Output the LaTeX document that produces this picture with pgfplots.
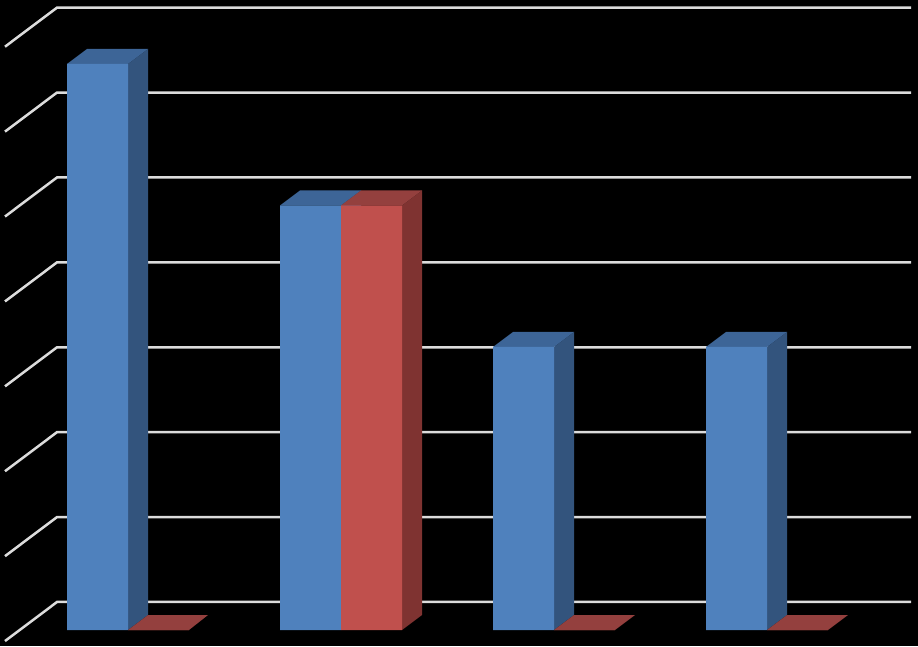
\documentclass[border=0pt]{standalone}
\usepackage{pgfplots}
\pgfplotsset{compat=1.18}
\definecolor{grid}{HTML}{DCDCDC}
\definecolor{bf}{HTML}{4F81BD}
\definecolor{bs}{HTML}{33547D}
\definecolor{bt}{HTML}{3D6597}
\definecolor{rf}{HTML}{C0504D}
\definecolor{rs}{HTML}{7F3331}
\definecolor{rt}{HTML}{94403E}
\begin{document}
\begin{tikzpicture}
\begin{axis}[
  scale only axis, width=918pt, height=646pt,
  xmin=0, xmax=918, ymin=-0.113, ymax=4.452,
  ticks=none,
  axis line style={draw=none},
  axis background/.style={fill=black},
  clip=true,
]
% back-wall grid lines with their diagonal returns
\pgfplotsset{gl/.style={draw=grid, line width=2.5pt, no marks, line join=miter}}
\addplot[gl] coordinates {(5,-0.078) (57,0.198) (911,0.198)};
\addplot[gl] coordinates {(5,0.522) (57,0.798) (911,0.798)};
\addplot[gl] coordinates {(5,1.122) (57,1.398) (911,1.398)};
\addplot[gl] coordinates {(5,1.722) (57,1.998) (911,1.998)};
\addplot[gl] coordinates {(5,2.322) (57,2.598) (911,2.598)};
\addplot[gl] coordinates {(5,2.922) (57,3.198) (911,3.198)};
\addplot[gl] coordinates {(5,3.522) (57,3.798) (911,3.798)};
\addplot[gl] coordinates {(5,4.122) (57,4.398) (911,4.398)};
% series 1: side and top faces
\addplot[fill=bs, draw=none] coordinates {(128,0) (148,0.106) (148,4.106) (128,4)} --cycle;
\addplot[fill=bt, draw=none] coordinates {(67,4) (87,4.106) (148,4.106) (128,4)} --cycle;
\addplot[fill=bs, draw=none] coordinates {(341,0) (361,0.106) (361,3.106) (341,3)} --cycle;
\addplot[fill=bt, draw=none] coordinates {(280,3) (300,3.106) (361,3.106) (341,3)} --cycle;
\addplot[fill=bs, draw=none] coordinates {(554,0) (574,0.106) (574,2.106) (554,2)} --cycle;
\addplot[fill=bt, draw=none] coordinates {(493,2) (513,2.106) (574,2.106) (554,2)} --cycle;
\addplot[fill=bs, draw=none] coordinates {(767,0) (787,0.106) (787,2.106) (767,2)} --cycle;
\addplot[fill=bt, draw=none] coordinates {(706,2) (726,2.106) (787,2.106) (767,2)} --cycle;
% series 1: front faces
\addplot[ybar, bar width=61pt, fill=bf, draw=none] coordinates {(97.5,4) (310.5,3) (523.5,2) (736.5,2)};
% series 2: side and top faces
\addplot[fill=rs, draw=none] coordinates {(402,0) (422,0.106) (422,3.106) (402,3)} --cycle;
\addplot[fill=rt, draw=none] coordinates {(341,3) (361,3.106) (422,3.106) (402,3)} --cycle;
\addplot[fill=rt, draw=none] coordinates {(128,0) (148,0.106) (208,0.106) (189,0)} --cycle;
\addplot[fill=rt, draw=none] coordinates {(554,0) (574,0.106) (635,0.106) (615,0)} --cycle;
\addplot[fill=rt, draw=none] coordinates {(767,0) (787,0.106) (848,0.106) (828,0)} --cycle;
% series 2: front faces
\addplot[ybar, bar width=61pt, fill=rf, draw=none] coordinates {(158.5,0) (371.5,3) (584.5,0) (797.5,0)};
\end{axis}
\end{tikzpicture}
\end{document}
